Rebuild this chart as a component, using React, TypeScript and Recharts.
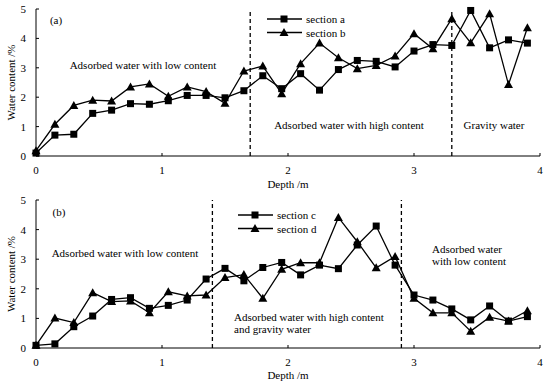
import React from 'react';
import { LineChart, Line, XAxis, YAxis, ReferenceLine, Legend } from 'recharts';

const depths = [0, 0.15, 0.3, 0.45, 0.6, 0.75, 0.9, 1.05, 1.2, 1.35, 1.5, 1.65, 1.8, 1.95, 2.1, 2.25, 2.4, 2.55, 2.7, 2.85, 3.0, 3.15, 3.3, 3.45, 3.6, 3.75, 3.9];

const sectionA = [0.1, 0.71, 0.74, 1.45, 1.56, 1.78, 1.76, 1.88, 2.06, 2.06, 1.98, 2.22, 2.73, 2.29, 2.8, 2.24, 2.94, 3.25, 3.22, 3.03, 3.57, 3.79, 3.76, 4.95, 3.68, 3.95, 3.84];
const sectionB = [0.18, 1.08, 1.72, 1.9, 1.87, 2.35, 2.45, 2.03, 2.35, 2.19, 1.79, 2.89, 3.06, 2.12, 3.14, 3.84, 3.34, 2.97, 3.08, 3.4, 4.16, 3.65, 4.67, 3.85, 4.84, 2.43, 4.36];
const sectionC = [0.09, 0.14, 0.72, 1.08, 1.64, 1.7, 1.34, 1.44, 1.62, 2.33, 2.69, 2.27, 2.72, 2.89, 2.47, 2.8, 2.68, 3.48, 4.12, 2.8, 1.79, 1.62, 1.32, 0.95, 1.42, 0.91, 1.06];
const sectionD = [0.09, 1.01, 0.86, 1.87, 1.57, 1.59, 1.19, 1.9, 1.76, 1.79, 2.38, 2.48, 1.68, 2.66, 2.88, 2.88, 4.41, 3.59, 2.71, 3.09, 1.68, 1.19, 1.19, 0.57, 1.04, 0.91, 1.26];

const xTicks = [0, 1, 2, 3, 4];
const yTicks = [0, 1, 2, 3, 4, 5];

const boundariesA = [1.7, 3.3];
const boundariesB = [1.4, 2.9];

const serif = { fontFamily: 'Liberation Serif, Times New Roman, serif', fontSize: 11 };

const rowsA = depths.map((d, i) => ({ depth: d, a: sectionA[i], b: sectionB[i] }));
const rowsB = depths.map((d, i) => ({ depth: d, c: sectionC[i], d: sectionD[i] }));

const XTick = ({ x, y, payload }: any) => (
  <g>
    <line x1={x} x2={x} y1={y} y2={y - 3} stroke="#000" />
    <text x={x} y={y + 18} textAnchor="middle" style={serif} fill="#000">
      {payload.value}
    </text>
  </g>
);

const YTick = ({ x, y, payload }: any) => (
  <g>
    <line x1={x} x2={x + 3} y1={y} y2={y} stroke="#000" />
    <text x={x - 10} y={y + 4} textAnchor="end" style={serif} fill="#000">
      {payload.value}
    </text>
  </g>
);

const squareDot = (p: any) => (
  <rect key={`s${p.index}`} x={p.cx - 3.5} y={p.cy - 3.5} width={7} height={7} fill="#000" />
);
const triangleDot = (p: any) => (
  <path key={`t${p.index}`} d={`M${p.cx},${p.cy - 4.5}L${p.cx + 4.5},${p.cy + 3.5}L${p.cx - 4.5},${p.cy + 3.5}Z`} fill="#000" />
);

const legendContent = (names: string[]) => () => (
  <svg width={100} height={30} style={{ display: 'block' }}>
    {names.map((n, i) => {
      const cy = 5 + i * 13.5;
      return (
        <g key={n}>
          <line x1={0} x2={35} y1={cy} y2={cy} stroke="#000" strokeWidth={1.3} />
          {i === 0 ? squareDot({ cx: 17, cy, index: 'l' }) : triangleDot({ cx: 17, cy, index: 'l' })}
          <text x={39} y={cy + 4} style={serif} fill="#000">{n}</text>
        </g>
      );
    })}
  </svg>
);

const Txt = ({ x, y, children, anchor = 'middle' }: any) => (
  <text x={x} y={y} textAnchor={anchor} style={serif} fill="#000">{children}</text>
);

function Panel({ rows, keys, names, bounds, height, top, topMargin, xHeight, legendTop, legendLeft }: any) {
  return (
    <div style={{ position: 'absolute', left: 0, top }}>
      <LineChart width={550} height={height} data={rows} margin={{ top: topMargin, right: 10, bottom: 0, left: 0 }}>
        <XAxis
          dataKey="depth"
          type="number"
          domain={[0, 4]}
          ticks={xTicks}
          axisLine={{ stroke: '#000' }}
          tickLine={false}
          tickSize={0}
          tickMargin={0}
          tick={<XTick />}
          height={xHeight}
        />
        <YAxis
          type="number"
          domain={[0, 5]}
          ticks={yTicks}
          axisLine={{ stroke: '#000' }}
          tickLine={false}
          tickSize={0}
          tickMargin={0}
          tick={<YTick />}
          width={36}
        />
        {bounds.map((b: number) => (
          <ReferenceLine key={b} x={b} stroke="#000" strokeDasharray="4 3" strokeWidth={1.3} />
        ))}
        <Legend
          layout="vertical"
          align="center"
          verticalAlign="middle"
          content={legendContent(names)}
          wrapperStyle={{ top: legendTop, left: legendLeft, width: 100 }}
        />
        <Line name={names[0]} dataKey={keys[0]} stroke="#000" strokeWidth={1.3} dot={squareDot} isAnimationActive={false} />
        <Line name={names[1]} dataKey={keys[1]} stroke="#000" strokeWidth={1.3} dot={triangleDot} isAnimationActive={false} />
      </LineChart>
    </div>
  );
}

export default function App() {
  return (
    <div style={{ position: 'absolute', left: 0, top: 0, width: 550, height: 387, background: '#fff' }}>
      <Panel rows={rowsA} keys={['a', 'b']} names={['section a', 'section b']} bounds={boundariesA}
        height={190} top={0} topMargin={9} xHeight={34} legendTop={13.5} legendLeft={267} />
      <Panel rows={rowsB} keys={['c', 'd']} names={['section c', 'section d']} bounds={boundariesB}
        height={197} top={190} topMargin={10} xHeight={39} legendTop={19.5} legendLeft={238} />
      <svg width={550} height={387} style={{ position: 'absolute', left: 0, top: 0, pointerEvents: 'none' }}>
        <Txt x={56} y={24}>(a)</Txt>
        <Txt x={143} y={69}>Adsorbed water with low content</Txt>
        <Txt x={349} y={129}>Adsorbed water with high content</Txt>
        <Txt x={494} y={129}>Gravity water</Txt>
        <Txt x={288} y={188}>Depth /m</Txt>
        <text transform="translate(15,82.5) rotate(-90)" textAnchor="middle" style={serif}>Water content /%</text>

        <Txt x={59} y={216}>(b)</Txt>
        <Txt x={125} y={257}>Adsorbed water with low content</Txt>
        <Txt x={234} y={321} anchor="start">Adsorbed water with high content</Txt>
        <Txt x={234} y={333} anchor="start">and gravity water</Txt>
        <Txt x={432} y={253} anchor="start">Adsorbed water</Txt>
        <Txt x={432} y={265} anchor="start">with low content</Txt>
        <Txt x={288} y={379}>Depth /m</Txt>
        <text transform="translate(15,274) rotate(-90)" textAnchor="middle" style={serif}>Water content /%</text>
      </svg>
    </div>
  );
}
